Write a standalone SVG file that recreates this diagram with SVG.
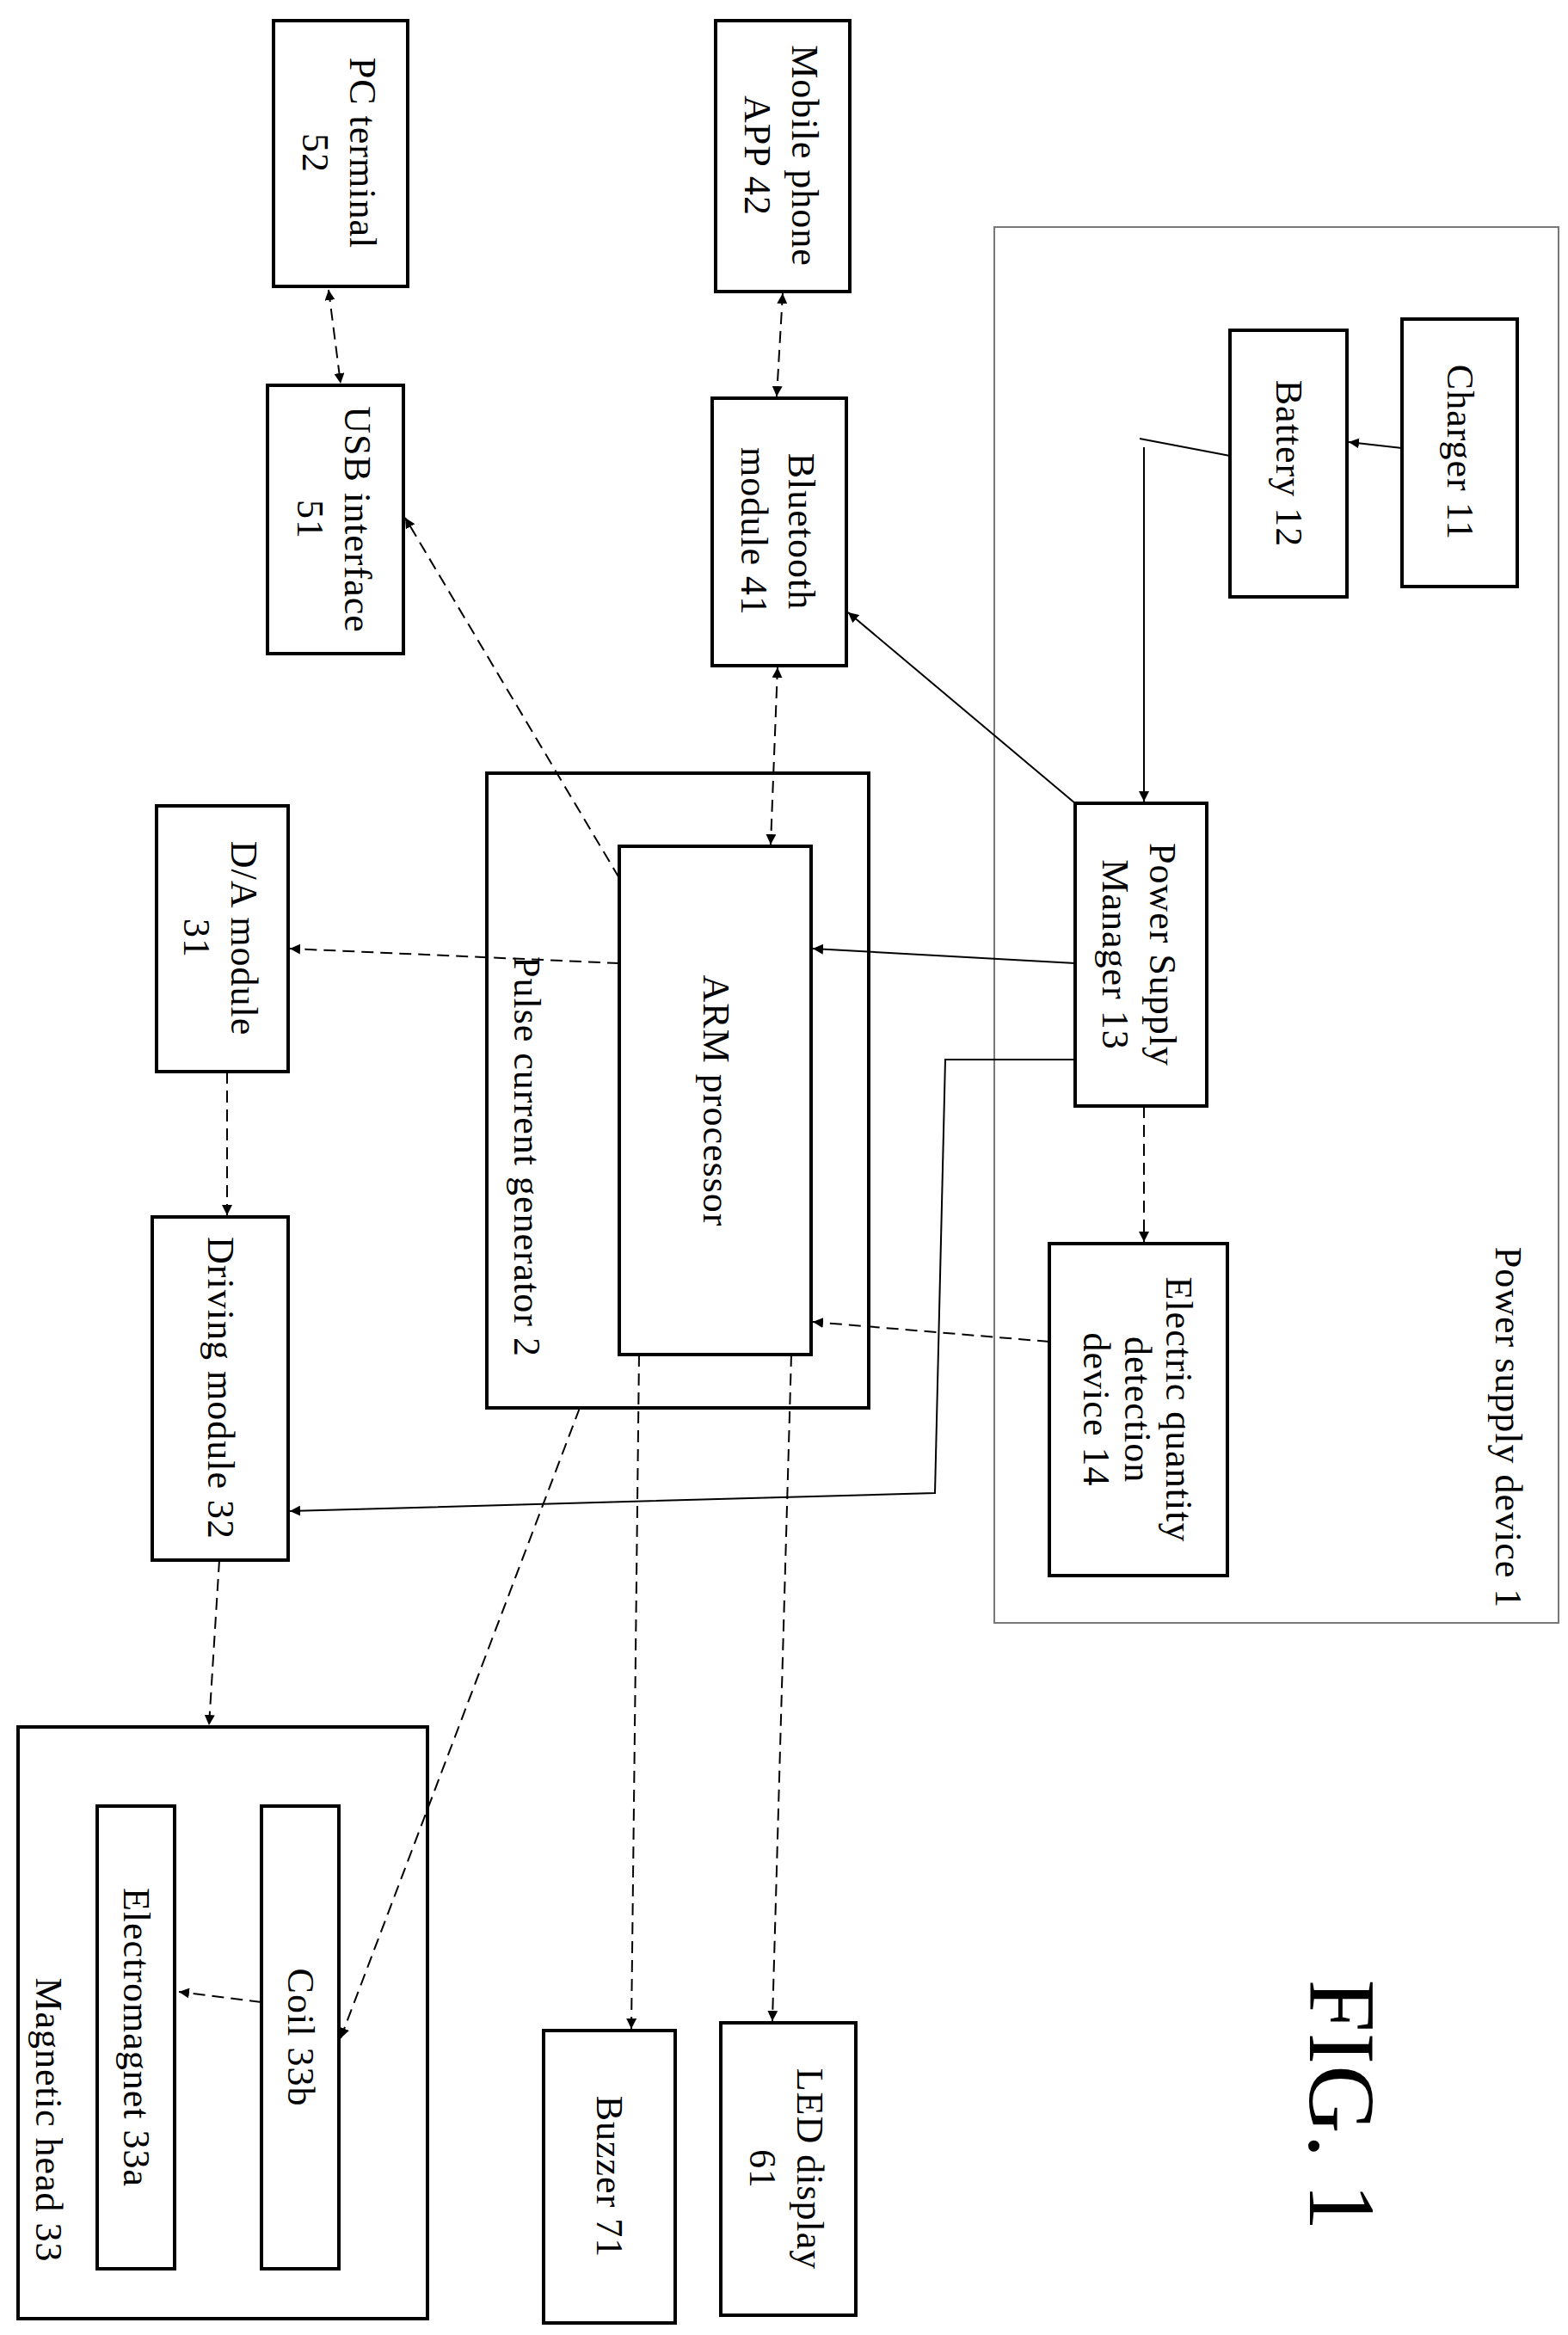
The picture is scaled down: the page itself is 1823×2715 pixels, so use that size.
<svg xmlns="http://www.w3.org/2000/svg" width="1823" height="2715" viewBox="0 0 1823 2715">
<defs>
<style>
.b{fill:none;stroke:#000;stroke-width:4}
.o{fill:none;stroke:#777;stroke-width:2}
.t{font-family:"Liberation Serif","Times New Roman",serif;font-size:44px;text-anchor:middle;dominant-baseline:central;letter-spacing:1px}
.s{fill:none;stroke:#000;stroke-width:2;marker-end:url(#a)}
.d{fill:none;stroke:#000;stroke-width:2;stroke-dasharray:14,8;marker-end:url(#a)}
.dd{fill:none;stroke:#000;stroke-width:2;stroke-dasharray:14,8;marker-end:url(#a);marker-start:url(#a2)}
</style>
<marker id="a" viewBox="0 0 10 10" refX="10" refY="5" markerWidth="12" markerHeight="12" markerUnits="userSpaceOnUse" orient="auto"><path d="M0,0L10,5L0,10z"/></marker>
<marker id="a2" viewBox="0 0 10 10" refX="0" refY="5" markerWidth="12" markerHeight="12" markerUnits="userSpaceOnUse" orient="auto"><path d="M10,0L0,5L10,10z"/></marker>
</defs>
<g id="power-supply-device"><rect class="o" x="1156" y="264" width="656" height="1623"/><text class="t" transform="translate(1753,1660) rotate(90)">Power supply device 1</text></g>
<g id="pc-terminal"><rect class="b" x="318" y="24" width="156" height="309"/><text class="t" transform="translate(396,178) rotate(90)"><tspan x="0" y="-0.6em">PC terminal</tspan><tspan x="0" y="0.65em">52</tspan></text></g>
<g id="mobile-app"><rect class="b" x="832" y="24" width="156" height="315"/><text class="t" transform="translate(910,181) rotate(90)"><tspan x="0" y="-0.6em">Mobile phone</tspan><tspan x="0" y="0.65em">APP 42</tspan></text></g>
<g id="charger"><rect class="b" x="1630" y="371" width="134" height="311"/><text class="t" transform="translate(1697,526) rotate(90)">Charger 11</text></g>
<g id="battery"><rect class="b" x="1430" y="384" width="136" height="310"/><text class="t" transform="translate(1498,539) rotate(90)">Battery 12</text></g>
<g id="usb"><rect class="b" x="311" y="448" width="158" height="312"/><text class="t" transform="translate(390,604) rotate(90)"><tspan x="0" y="-0.6em">USB interface</tspan><tspan x="0" y="0.65em">51</tspan></text></g>
<g id="bluetooth"><rect class="b" x="828" y="463" width="156" height="311"/><text class="t" transform="translate(906,618) rotate(90)"><tspan x="0" y="-0.6em">Bluetooth</tspan><tspan x="0" y="0.65em">module 41</tspan></text></g>
<g id="pulse-gen"><rect class="b" x="566" y="899" width="444" height="738"/><text class="t" transform="translate(612,1345) rotate(90)">Pulse current generator 2</text></g>
<g id="arm"><rect class="b" x="720" y="984" width="223" height="591"/><text class="t" transform="translate(832,1280) rotate(90)">ARM processor</text></g>
<g id="psm"><rect class="b" x="1250" y="934" width="153" height="352"/><text class="t" transform="translate(1326,1110) rotate(90)"><tspan x="0" y="-0.6em">Power Supply</tspan><tspan x="0" y="0.65em">Manager 13</tspan></text></g>
<g id="detector"><rect class="b" x="1220" y="1446" width="207" height="386"/><text class="t" transform="translate(1323,1639) rotate(90)"><tspan x="0" y="-1.1em">Electric quantity</tspan><tspan x="0" y="0">detection</tspan><tspan x="0" y="1.1em">device 14</tspan></text></g>
<g id="da"><rect class="b" x="182" y="937" width="153" height="309"/><text class="t" transform="translate(258,1091) rotate(90)"><tspan x="0" y="-0.6em">D/A module</tspan><tspan x="0" y="0.65em">31</tspan></text></g>
<g id="driving"><rect class="b" x="177" y="1415" width="158" height="399"/><text class="t" transform="translate(256,1614) rotate(90)">Driving module 32</text></g>
<g id="magnetic-head"><rect class="b" x="21" y="2008" width="476" height="688"/><text class="t" transform="translate(56,2465) rotate(90)">Magnetic head 33</text>
<g id="coil"><rect class="b" x="304" y="2100" width="90" height="538"/><text class="t" transform="translate(349,2369) rotate(90)">Coil 33b</text></g>
<g id="electromagnet"><rect class="b" x="113" y="2100" width="90" height="538"/><text class="t" transform="translate(158,2369) rotate(90)">Electromagnet 33a</text></g></g>
<g id="buzzer"><rect class="b" x="632" y="2361" width="153" height="340"/><text class="t" transform="translate(708,2531) rotate(90)">Buzzer 71</text></g>
<g id="led"><rect class="b" x="838" y="2352" width="157" height="340"/><text class="t" transform="translate(916,2522) rotate(90)"><tspan x="0" y="-0.6em">LED display</tspan><tspan x="0" y="0.65em">61</tspan></text></g>
<text class="t" style="font-size:110px" transform="translate(1560,2448) rotate(90)">FIG. 1</text>
<g id="connectors">
<path class="dd" d="M382,337L396,446"/>
<path class="dd" d="M910,341L903,461"/>
<path class="s" d="M1630,521L1568,514"/>
<path d="M1430,530L1325,510" fill="none" stroke="#000" stroke-width="2"/>
<path class="s" d="M1330,520L1330,932"/>
<path class="s" d="M1250,934L986,712"/>
<path class="s" d="M1250,1120L945,1103"/>
<path class="s" d="M1250,1232L1099,1232L1087,1736L337,1757"/>
<path class="d" d="M1330,1286L1330,1444"/>
<path class="d" d="M1220,1560L945,1537"/>
<path class="dd" d="M904,776L896,982"/>
<path class="d" d="M720,1021L471,602"/>
<path class="d" d="M720,1120L337,1103"/>
<path class="d" d="M264,1246L264,1413"/>
<path class="d" d="M255,1814L243,2006"/>
<path class="d" d="M674,1637L396,2370"/>
<path class="d" d="M743,1575L734,2359"/>
<path class="d" d="M920,1575L898,2350"/>
<path class="d" d="M304,2328L208,2316"/>
</g>
</svg>
